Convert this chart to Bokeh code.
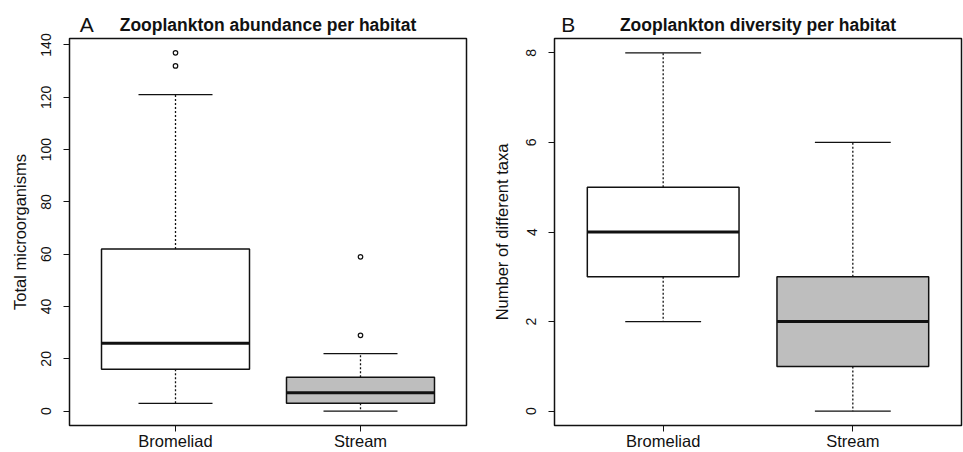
from bokeh.plotting import figure
from bokeh.models import Range1d, FixedTicker, LinearAxis
from bokeh.layouts import row
from bokeh.embed import file_html
from bokeh.resources import INLINE

# ---------------- data ----------------
categories = ["Bromeliad", "Stream"]
box_fill = ["#FFFFFF", "#BEBEBE"]

abund_low = [3, 0]
abund_q1 = [16, 3]
abund_median = [26, 7]
abund_q3 = [62, 13]
abund_high = [121, 22]
abund_out_cat = ["Bromeliad", "Bromeliad", "Stream", "Stream"]
abund_out_val = [132, 137, 29, 59]
abund_ticks = [0, 20, 40, 60, 80, 100, 120, 140]

div_low = [2, 0]
div_q1 = [3, 1]
div_median = [4, 2]
div_q3 = [5, 3]
div_high = [8, 6]
div_out_cat = []
div_out_val = []
div_ticks = [0, 2, 4, 6, 8]

FONT = "Liberation Sans"
INK = "#111111"


def boxplot(title, letter, ylabel, low, q1, med, q3, high, out_cat, out_val,
            yticks, width, bl, br, letter_x, ylab_standoff):
    ymin, ymax = min(low + out_val), max(high + out_val)
    pad = 0.04 * (ymax - ymin)
    p = figure(width=width, height=452, output_backend="svg", toolbar_location=None,
               x_range=Range1d(0.427, 2.573), y_range=Range1d(ymin - pad, ymax + pad),
               min_border_left=bl, min_border_right=br, min_border_top=38,
               min_border_bottom=26)
    p.xgrid.visible = False
    p.ygrid.visible = False
    p.outline_line_color = INK
    p.outline_line_width = 1.5
    p.background_fill_color = "white"
    p.border_fill_color = "white"

    pos = [i + 1 for i in range(len(categories))]
    # whiskers
    p.segment(x0=pos, x1=pos, y0=q3, y1=high, line_color=INK, line_width=1.3, line_dash="2 2")
    p.segment(x0=pos, x1=pos, y0=q1, y1=low, line_color=INK, line_width=1.3, line_dash="2 2")
    # caps
    p.segment(x0=[x - 0.2 for x in pos], x1=[x + 0.2 for x in pos], y0=high, y1=high,
              line_color=INK, line_width=1.3)
    p.segment(x0=[x - 0.2 for x in pos], x1=[x + 0.2 for x in pos], y0=low, y1=low,
              line_color=INK, line_width=1.3)
    # boxes
    p.vbar(x=pos, width=0.8, bottom=q1, top=q3, fill_color=box_fill,
           line_color=INK, line_width=1.5)
    # medians
    p.segment(x0=[x - 0.4 for x in pos], x1=[x + 0.4 for x in pos], y0=med, y1=med,
              line_color=INK, line_width=3)
    # outliers
    if out_val:
        ox = [categories.index(c) + 1 for c in out_cat]
        p.scatter(x=ox, y=out_val, marker="circle", size=4.5, fill_color=None,
                  line_color=INK, line_width=1.2)

    # axes
    p.xaxis.ticker = FixedTicker(ticks=pos)
    p.xaxis.major_label_overrides = {x: c for x, c in zip(pos, categories)}
    p.xaxis.minor_tick_line_color = None
    p.xaxis.axis_line_color = None
    p.xaxis.major_tick_out = 6
    p.xaxis.major_tick_in = 0
    p.xaxis.major_tick_line_color = INK
    p.xaxis.major_label_standoff = 0
    p.xaxis.major_label_text_font = FONT
    p.xaxis.major_label_text_font_size = "16.5px"
    p.xaxis.major_label_text_color = INK

    p.yaxis.ticker = FixedTicker(ticks=yticks)
    p.yaxis.minor_tick_line_color = None
    p.yaxis.axis_line_color = None
    p.yaxis.major_tick_out = 6
    p.yaxis.major_tick_in = 0
    p.yaxis.major_tick_line_color = INK
    p.yaxis.major_label_orientation = "vertical"
    p.yaxis.major_label_standoff = 12
    p.yaxis.major_label_text_font = FONT
    p.yaxis.major_label_text_font_size = "14px"
    p.yaxis.major_label_text_color = INK
    p.yaxis.axis_label = ylabel
    p.yaxis.axis_label_text_font = FONT
    p.yaxis.axis_label_text_font_size = "16.5px"
    p.yaxis.axis_label_text_font_style = "normal"
    p.yaxis.axis_label_text_color = INK
    p.yaxis.axis_label_standoff = ylab_standoff

    # panel letter (tick label) and bold title (axis label) on one line above the box
    top_axis = LinearAxis(ticker=FixedTicker(ticks=[letter_x]),
                          major_label_overrides={letter_x: letter},
                          major_tick_line_color=None, minor_tick_line_color=None,
                          major_tick_out=0, major_tick_in=0,
                          axis_line_color=None, major_label_standoff=3,
                          major_label_text_font=FONT, major_label_text_font_size="21px",
                          major_label_text_color=INK,
                          axis_label=title, axis_label_text_font=FONT,
                          axis_label_text_font_size="17.5px",
                          axis_label_text_font_style="bold",
                          axis_label_text_color=INK, axis_label_standoff=-25)
    p.add_layout(top_axis, "above")
    return p


pa = boxplot("Zooplankton abundance per habitat", "A", "Total microorganisms",
             abund_low, abund_q1, abund_median, abund_q3, abund_high,
             abund_out_cat, abund_out_val, abund_ticks, 480, 69, 14, 0.52, 10)
pb = boxplot("Zooplankton diversity per habitat", "B", "Number of different taxa",
             div_low, div_q1, div_median, div_q3, div_high,
             div_out_cat, div_out_val, div_ticks, 483, 74, 2, 0.50, 13)

layout = row(pa, pb)
open("out.html", "w").write(file_html(layout, INLINE))
